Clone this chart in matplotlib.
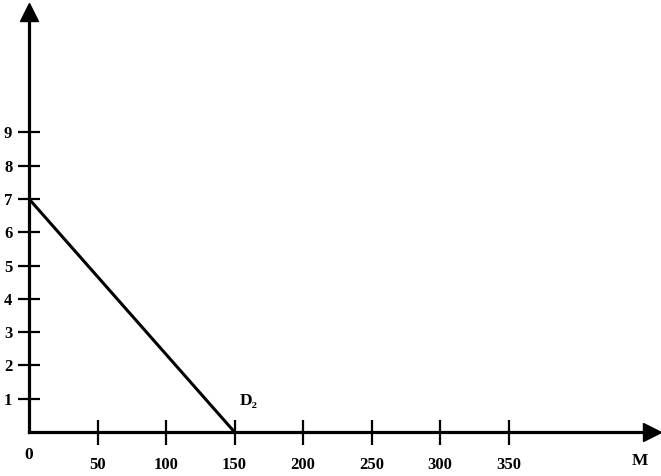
import matplotlib.pyplot as plt

# demand curve D2 (intercepts)
d2_x = [0, 150]
d2_y = [7, 0]

x_ticks = [50, 100, 150, 200, 250, 300, 350]
y_ticks = [1, 2, 3, 4, 5, 6, 7, 8, 9]

plt.rcParams['font.family'] = ['Liberation Serif', 'DejaVu Serif']
plt.rcParams['font.weight'] = 'bold'

fig = plt.figure(figsize=(6.61, 4.76), dpi=100)
# axes box: origin at px (29, 432), arrows end near the figure edges
ax = fig.add_axes([29 / 661, 44 / 476, 623 / 661, 420 / 476])

ax.plot(d2_x, d2_y, color='black', lw=2.2, solid_capstyle='butt')

ax.set_xlim(0, 623 / 1.37)
ax.set_ylim(0, 420 / 33.3)

for side in ['top', 'right']:
    ax.spines[side].set_visible(False)
for side in ['left', 'bottom']:
    ax.spines[side].set_linewidth(2.3)

ax.set_xticks(x_ticks)
ax.set_yticks(y_ticks)
ax.tick_params(axis='x', direction='inout', length=18, width=1.6, pad=9,
               labelsize=12)
ax.tick_params(axis='y', direction='inout', length=16, width=1.6, pad=4,
               labelsize=12)
for lab in ax.get_xticklabels() + ax.get_yticklabels():
    lab.set_fontweight('bold')

# arrow heads at the ends of both axes
ax.plot(1, 0, '>', color='black', ms=13, transform=ax.transAxes, clip_on=False)
ax.plot(0, 1, '^', color='black', ms=13, transform=ax.transAxes, clip_on=False)

ax.text(0, -0.055, '0', transform=ax.transAxes, ha='center', va='center',
        fontsize=12.5, fontweight='bold')
ax.text(0.98, -0.068, 'M', transform=ax.transAxes, ha='center', va='center',
        fontsize=12.5, fontweight='bold')
ax.annotate('D₂', (d2_x[1], d2_y[1]), xytext=(10, 22), textcoords='offset points',
            ha='center', va='center', fontsize=12.5, fontweight='bold')

fig.savefig('out.png', dpi=100)
